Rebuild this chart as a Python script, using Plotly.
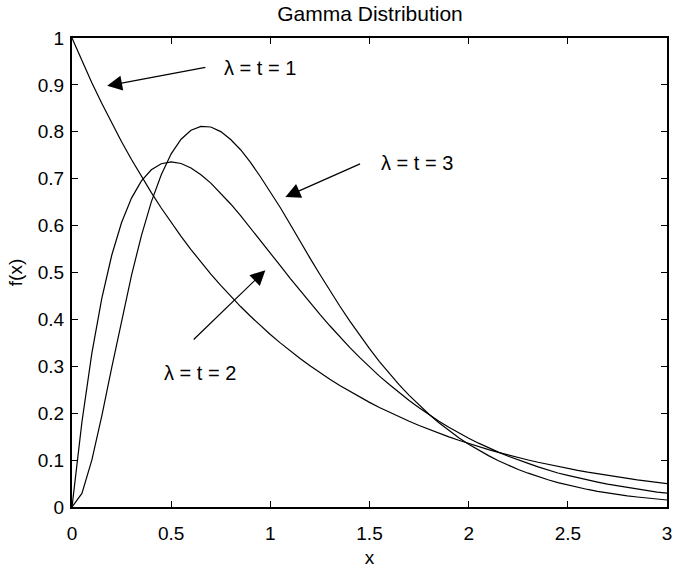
import plotly.graph_objects as go

# x samples (step 0.05 from 0 to 3)
x_vals = [round(0.05 * k, 2) for k in range(61)]

# lambda = t = 1
f1 = [1.0000, 0.9512, 0.9048, 0.8607, 0.8187, 0.7788, 0.7408, 0.7047, 0.6703, 0.6376,
      0.6065, 0.5769, 0.5488, 0.5220, 0.4966, 0.4724, 0.4493, 0.4274, 0.4066, 0.3867,
      0.3679, 0.3499, 0.3329, 0.3166, 0.3012, 0.2865, 0.2725, 0.2592, 0.2466, 0.2346,
      0.2231, 0.2122, 0.2019, 0.1920, 0.1827, 0.1738, 0.1653, 0.1572, 0.1496, 0.1423,
      0.1353, 0.1287, 0.1225, 0.1165, 0.1108, 0.1054, 0.1003, 0.0954, 0.0907, 0.0863,
      0.0821, 0.0781, 0.0743, 0.0707, 0.0672, 0.0639, 0.0608, 0.0578, 0.0550, 0.0523,
      0.0498]

# lambda = t = 2
f2 = [0.0000, 0.1810, 0.3275, 0.4445, 0.5362, 0.6065, 0.6586, 0.6952, 0.7189, 0.7319,
      0.7358, 0.7324, 0.7229, 0.7085, 0.6905, 0.6694, 0.6461, 0.6212, 0.5951, 0.5685,
      0.5413, 0.5145, 0.4875, 0.4614, 0.4354, 0.4105, 0.3864, 0.3629, 0.3405, 0.3190,
      0.2988, 0.2790, 0.2611, 0.2435, 0.2271, 0.2114, 0.1966, 0.1828, 0.1702, 0.1576,
      0.1464, 0.1361, 0.1260, 0.1170, 0.1082, 0.0999, 0.0929, 0.0855, 0.0787, 0.0725,
      0.0674, 0.0622, 0.0572, 0.0530, 0.0486, 0.0451, 0.0414, 0.0376, 0.0348, 0.0319,
      0.0297]

# lambda = t = 3
f3 = [0.0000, 0.0290, 0.1000, 0.1937, 0.2964, 0.3986, 0.4940, 0.5787, 0.6506, 0.7086,
      0.7530, 0.7841, 0.8034, 0.8116, 0.8103, 0.8004, 0.7836, 0.7618, 0.7348, 0.7042,
      0.6723, 0.6385, 0.6028, 0.5660, 0.5307, 0.4957, 0.4609, 0.4286, 0.3969, 0.3664,
      0.3375, 0.3101, 0.2844, 0.2602, 0.2380, 0.2171, 0.1977, 0.1797, 0.1633, 0.1478,
      0.1339, 0.1208, 0.1095, 0.0986, 0.0889, 0.0800, 0.0721, 0.0646, 0.0581, 0.0521,
      0.0467, 0.0418, 0.0374, 0.0335, 0.0299, 0.0266, 0.0238, 0.0213, 0.0190, 0.0168,
      0.0149]

x_ticks = [0, 0.5, 1, 1.5, 2, 2.5, 3]
x_tick_text = ["0", "0.5", "1", "1.5", "2", "2.5", "3"]
y_ticks = [0, 0.1, 0.2, 0.3, 0.4, 0.5, 0.6, 0.7, 0.8, 0.9, 1]
y_tick_text = ["0", "0.1", "0.2", "0.3", "0.4", "0.5", "0.6", "0.7", "0.8", "0.9", "1"]

labels = ["λ = t = 1", "λ = t = 3", "λ = t = 2"]
label_x = [0.95, 1.74, 0.647]
label_y = [0.936, 0.733, 0.286]
arrow_tail_x = [0.68, 1.46, 0.606]
arrow_tail_y = [0.938, 0.733, 0.354]
arrow_head_x = [0.177, 1.076, 0.975]
arrow_head_y = [0.898, 0.661, 0.505]

FONT = "Liberation Sans, Arial, Helvetica, sans-serif"

fig = go.Figure()
for ys in (f1, f2, f3):
    fig.add_trace(go.Scatter(x=x_vals, y=ys, mode="lines",
                             line=dict(color="black", width=1.2),
                             showlegend=False, hoverinfo="skip"))

for i in range(3):
    fig.add_annotation(x=arrow_head_x[i], y=arrow_head_y[i],
                       ax=arrow_tail_x[i], ay=arrow_tail_y[i],
                       xref="x", yref="y", axref="x", ayref="y",
                       text="", showarrow=True, arrowhead=2, arrowsize=2.5,
                       arrowwidth=1.2, arrowcolor="black")
    fig.add_annotation(x=label_x[i], y=label_y[i], xref="x", yref="y",
                       text=labels[i], showarrow=False,
                       font=dict(family=FONT, size=20, color="black"))

axis_common = dict(showline=True, linecolor="black", linewidth=2, mirror="ticks",
                   ticks="inside", ticklen=6, tickcolor="black", tickwidth=1,
                   showgrid=False, zeroline=False, automargin=False,
                   tickfont=dict(family=FONT, size=19, color="black"))

fig.update_xaxes(range=[0, 3], tickvals=x_ticks, ticktext=x_tick_text,
                 ticklabelstandoff=8,
                 title=dict(text="x", font=dict(family=FONT, size=19, color="black"),
                            standoff=9),
                 **axis_common)
fig.update_yaxes(range=[0, 1], tickvals=y_ticks, ticktext=y_tick_text,
                 ticklabelstandoff=2,
                 title=dict(text="f(x)", font=dict(family=FONT, size=19, color="black"),
                            standoff=10),
                 **axis_common)

fig.update_layout(
    width=673, height=568,
    margin=dict(l=72, r=6, t=38, b=61),
    paper_bgcolor="white", plot_bgcolor="white",
    title=dict(text="Gamma Distribution", x=370 / 673, xanchor="center",
               y=1 - 14 / 568, yanchor="middle",
               font=dict(family=FONT, size=21, color="black")),
)

fig.write_html("out.html")
